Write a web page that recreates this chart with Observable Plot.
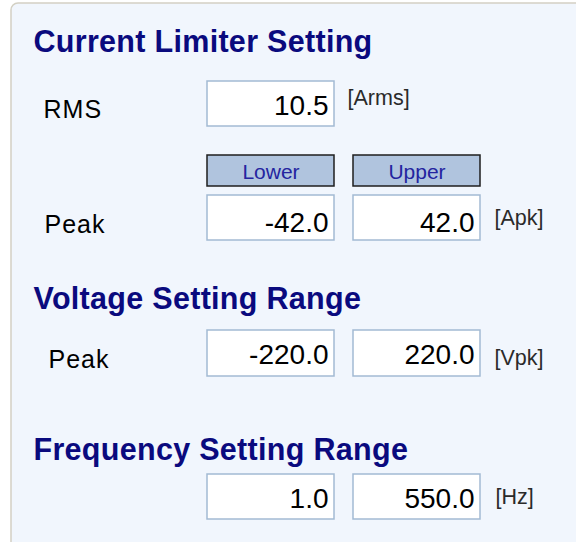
<!DOCTYPE html>
<html>
<head>
<meta charset="utf-8">
<script src="https://cdn.jsdelivr.net/npm/d3@7"></script>
<script src="https://cdn.jsdelivr.net/npm/@observablehq/plot@0.6"></script>
<style>
  html, body { margin: 0; padding: 0; background: #ffffff; }
  #chart svg { display: block; }
</style>
</head>
<body>
<div id="chart"></div>
<script>
// ---- data (content) ----
const sectionTitles = ["Current Limiter Setting", "Voltage Setting Range", "Frequency Setting Range"];
const rowLabels = ["RMS", "Peak", "Peak", ""];
const lowerValues = [10.5, -42.0, -220.0, 1.0];
const upperValues = [null, 42.0, 220.0, 550.0];
const unitLabels = ["[Arms]", "[Apk]", "[Vpk]", "[Hz]"];
const columnHeaders = ["Lower", "Upper"];

// ---- layout (positions in panel units) ----
const W = 576, H = 542;
const layout = {
  panel: {x1: 11, y1: 3, x2: 620, y2: 600},
  titleX: 33,
  titleY: [51, 308, 459],
  boxY: [[81, 126], [195, 240], [330, 376], [474, 519]],
  lowerX: [207, 334],
  upperX: [353, 480],
  labelX: [43, 44, 48, 0],
  labelY: [117, 232, 367, 0],
  valueY: [114, 231, 363, 507],
  unitX: [347, 494, 494, 495],
  unitY: [104, 224, 364, 503],
  headerY: [155, 186],
  headerBaseline: 178
};

const titles = sectionTitles.map((t, i) => ({text: t, x: layout.titleX, y: layout.titleY[i]}));
const rows = rowLabels.map((lab, i) => ({
  label: lab, lx: layout.labelX[i], ly: layout.labelY[i],
  y1: layout.boxY[i][0], y2: layout.boxY[i][1], vy: layout.valueY[i],
  lower: lowerValues[i], upper: upperValues[i],
  unit: unitLabels[i], ux: layout.unitX[i], uy: layout.unitY[i]
}));
const boxes = [];
rows.forEach(r => {
  boxes.push({x1: layout.lowerX[0], x2: layout.lowerX[1], y1: r.y1, y2: r.y2, value: r.lower, vy: r.vy});
  if (r.upper != null) boxes.push({x1: layout.upperX[0], x2: layout.upperX[1], y1: r.y1, y2: r.y2, value: r.upper, vy: r.vy});
});
const headers = columnHeaders.map((h, i) => {
  const xr = i === 0 ? layout.lowerX : layout.upperX;
  return {text: h, x1: xr[0], x2: xr[1], y1: layout.headerY[0], y2: layout.headerY[1], y: layout.headerBaseline};
});

const font = "'Liberation Sans', Arial, sans-serif";

const svg = Plot.plot({
  width: W, height: H,
  margin: 0,
  style: {background: "#ffffff", fontFamily: font},
  x: {domain: [0, W], range: [0, W], axis: null},
  y: {domain: [0, H], range: [0, H], axis: null},
  marks: [
    Plot.rect([layout.panel], {x1: "x1", x2: "x2", y1: "y1", y2: "y2",
      fill: "#f1f6fd", stroke: "#d3d0c3", strokeWidth: 1.5, rx: 7}),
    Plot.text(titles, {x: "x", y: "y", text: "text", textAnchor: "start", lineAnchor: "bottom",
      fontSize: 30.5, fontWeight: "bold", fill: "#0a0a7e", fontFamily: font}),
    Plot.text(rows.filter(r => r.label), {x: "lx", y: "ly", text: "label", textAnchor: "start", lineAnchor: "bottom",
      fontSize: 25, fill: "#000000", fontFamily: font}),
    Plot.rect(headers, {x1: "x1", x2: "x2", y1: "y1", y2: "y2", fill: "#b0c4de", stroke: "#1e1e1e", strokeWidth: 1.5}),
    Plot.text(headers, {x: d => (d.x1 + d.x2) / 2, y: "y", text: "text", textAnchor: "middle", lineAnchor: "bottom",
      fontSize: 21, fill: "#2424a0", fontFamily: font}),
    Plot.rect(boxes, {x1: "x1", x2: "x2", y1: "y1", y2: "y2", fill: "#ffffff", stroke: "#a3bad3", strokeWidth: 1.5}),
    Plot.text(boxes, {x: d => d.x2 - 6, y: "vy", text: d => d.value.toFixed(1), textAnchor: "end", lineAnchor: "bottom",
      fontSize: 28, fill: "#000000", fontFamily: font}),
    Plot.text(rows, {x: "ux", y: "uy", text: "unit", textAnchor: "start", lineAnchor: "bottom",
      fontSize: 21.5, fill: "#2a2a2a", fontFamily: font})
  ]
});

d3.select(svg).selectAll("text")
  .filter(function() { return rowLabels.includes(this.textContent) && this.textContent !== ""; })
  .style("letter-spacing", "1px");
d3.select(svg).selectAll("text")
  .filter(function() { return sectionTitles.includes(this.textContent); })
  .style("letter-spacing", "0.3px");
document.getElementById("chart").appendChild(svg);
</script>
</body>
</html>
